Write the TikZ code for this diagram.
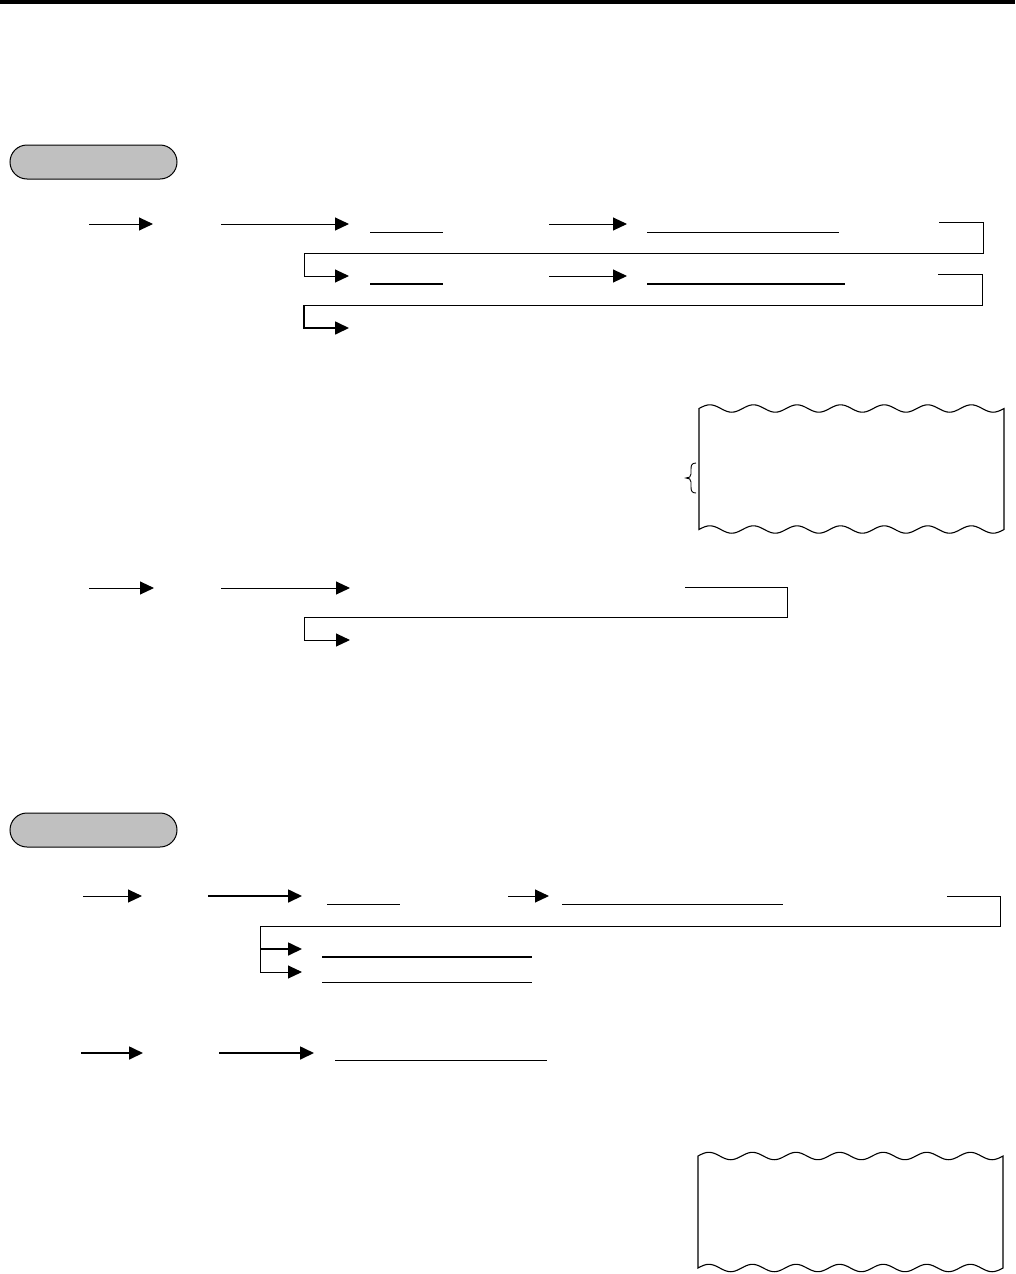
\documentclass[tikz,border=0pt]{standalone}
\usetikzlibrary{arrows.meta}
\definecolor{pillgray}{HTML}{C0C0C0}
\begin{document}
\begin{tikzpicture}[x=1pt,y=-1pt,
  conn/.style={line width=1pt,-{Triangle[length=14pt,width=13pt]}},
  boldconn/.style={line width=1.7pt,-{Triangle[length=14pt,width=13pt]}},
  rulethin/.style={line width=1pt},
  rulebold/.style={line width=2pt},
  pill/.style={draw,line width=1pt,fill=pillgray,rounded corners=17pt},
  paper/.style={line width=1.1pt}]
\useasboundingbox (0,0) rectangle (1015,1274);
\fill (0,0) rectangle (1015,4);

% ---------- section 1 ----------
\draw[pill] (10,145) rectangle (177,179);

% row 1
\coordinate (a1s) at (89,224);  \coordinate (a1e) at (153,224);
\coordinate (a2s) at (221,224); \coordinate (a2e) at (349,224);
\coordinate (a3s) at (549,224); \coordinate (a3e) at (627,224);
\draw[conn] (a1s) -- (a1e);
\draw[conn] (a2s) -- (a2e);
\draw[conn] (a3s) -- (a3e);
\draw[rulethin] (370,232) coordinate (u1s) -- (443,232) coordinate (u1e);
\draw[rulethin] (647,232) coordinate (u2s) -- (839,232) coordinate (u2e);
\coordinate (l1s) at (939,222); \coordinate (l1e) at (349,276);
\draw[conn] (l1s) -- (983,222) -- (983,253) -- (304,253) -- (304,276) -- (l1e);

% row 2
\coordinate (a4s) at (549,276); \coordinate (a4e) at (627,276);
\draw[conn] (a4s) -- (a4e);
\draw[rulebold] (370,284) coordinate (u3s) -- (443,284) coordinate (u3e);
\draw[rulebold] (647,284) coordinate (u4s) -- (845,284) coordinate (u4e);
\coordinate (l2s) at (938,274); \coordinate (l2e) at (349,328);
\coordinate (l2k) at (304,305);
\draw[rulethin] (l2s) -- (982,274) -- (982,305) -- (l2k);
\draw[boldconn] (l2k) -- (304,328) -- (l2e);

% paper 1
\draw[paper] plot[domain=0:305,samples=140] ({699+\x},{408.5-3.7*sin(\x*8.2626)})
  -- plot[domain=305:0,samples=140] ({699+\x},{529.5-3.7*sin(\x*8.2626)}) -- cycle;
% brace
\draw[line width=0.9pt] (696,463) .. controls (691,463) and (691,466) .. (691,470)
  -- (691,474) .. controls (691,477) and (689,478) .. (686,478)
  .. controls (689,478) and (691,479) .. (691,482) -- (691,487)
  .. controls (691,491) and (692,493) .. (696,493);

% row 3
\coordinate (b1s) at (89,588);  \coordinate (b1e) at (154,588);
\coordinate (b2s) at (221,588); \coordinate (b2e) at (350,588);
\draw[conn] (b1s) -- (b1e);
\draw[conn] (b2s) -- (b2e);
\coordinate (l3s) at (685,587); \coordinate (l3e) at (350,640);
\draw[conn] (l3s) -- (787,587) -- (787,617) -- (304,617) -- (304,640) -- (l3e);

% ---------- section 2 ----------
\draw[pill] (10,813) rectangle (177,847);

% row 4
\coordinate (c1s) at (83,896);  \coordinate (c1e) at (142,896);
\coordinate (c2s) at (208,896); \coordinate (c2e) at (302,896);
\coordinate (c3s) at (508,896); \coordinate (c3e) at (549,896);
\draw[conn] (c1s) -- (c1e);
\draw[boldconn] (c2s) -- (c2e);
\draw[conn] (c3s) -- (c3e);
\draw[rulethin] (327,904) -- (400,904);
\draw[rulethin] (562,904) -- (783,904);
\coordinate (l4s) at (947,896); \coordinate (l4e) at (302,972);
\coordinate (br) at (260,949);  \coordinate (bre) at (302,949);
\draw[conn] (l4s) -- (1000,896) -- (1000,926) -- (260,926) -- (260,972) -- (l4e);
\draw[boldconn] (br) -- (bre);
\draw[rulebold] (322,957) -- (532,957);
\draw[rulethin] (322,982) -- (532,982);

% row 5
\coordinate (d1s) at (81,1053);  \coordinate (d1e) at (143,1053);
\coordinate (d2s) at (219,1053); \coordinate (d2e) at (314,1053);
\draw[boldconn] (d1s) -- (d1e);
\draw[boldconn] (d2s) -- (d2e);
\draw[rulethin] (335,1060) -- (547,1060);

% paper 2
\draw[paper] plot[domain=0:305,samples=140] ({698+\x},{1156-3.7*sin(\x*8.2626)})
  -- plot[domain=305:0,samples=140] ({698+\x},{1268-3.7*sin(\x*8.2626)}) -- cycle;
\end{tikzpicture}
\end{document}
